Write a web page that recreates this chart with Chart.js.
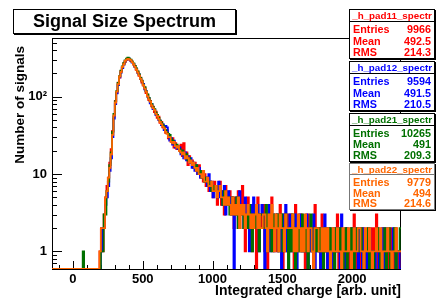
<!DOCTYPE html>
<html><head><meta charset="utf-8">
<script src="https://cdn.jsdelivr.net/npm/chart.js@4/dist/chart.umd.min.js"></script>
<style>
html,body{margin:0;padding:0;background:#fff;}
#wrap{position:relative;width:438px;height:300px;overflow:hidden;font-family:'Liberation Sans',Arial,Helvetica,sans-serif;font-weight:bold;}
canvas{position:absolute;left:0;top:0;}
.box{position:absolute;background:#fff;border:1px solid #000;box-shadow:1px 1px 0 #000;box-sizing:border-box;}
.ttl{position:absolute;left:0;right:0;text-align:center;white-space:nowrap;}
.row{position:absolute;left:3px;right:3px;display:flex;justify-content:space-between;white-space:nowrap;}
.sep{position:absolute;left:0;right:0;height:1px;background:#000;}
</style>
</head><body>
<div id="wrap">
<canvas id="c" width="438" height="300"></canvas>
</div>
<script>
// ---- data ----
const binLow = -150, binWidth = 10;
const yAxisMin = 0.593, yAxisMax = 572;
const seriesNames = ['_h_pad11_spectr','_h_pad12_spectr','_h_pad21_spectr','_h_pad22_spectr'];
const seriesColors = ['#ff0000','#0000ff','#007000','#ff6600'];
const entries = ['9966','9594','10265','9779'];
const means = ['492.5','491.5','491','494'];
const rmsValues = ['214.3','210.5','209.3','214.6'];
const xTicks = [0,500,1000,1500,2000];
const yTicks = [1,10,100];
const chartTitle = 'Signal Size Spectrum';
const xTitle = 'Integrated charge [arb. unit]';
const yTitle = 'Number of signals';

const pad11 = [
0,0,0,0,0,0,0,0,0,0,
0,0,0,0,0,0,0,0,0,0,
0,0,0,0,0,0,0,0,0,0,
0,0,0,0,1,2,1,3,5,7,
9,14,21,36,55,88,112,152,176,214,
236,268,281,298,314,301,290,284,259,248,
222,210,186,176,152,139,131,111,106,90,
88,75,74,63,64,53,55,46,47,40,
41,34,37,29,28,26,29,22,25,21,
23,20,24,17,25,16,19,13,17,14,
15,12,14,11,10,13,9,11,8,10,
7,9,6,8,7,5,8,6,4,7,
8,4,6,3,7,5,4,6,3,5,
2,5,3,6,2,4,7,3,1,4,
5,2,3,1,4,3,0,5,2,3,
2,4,1,3,0,2,3,5,1,2,
3,1,2,4,2,0,3,1,2,3,
1,3,2,0,4,2,1,2,3,1,
2,0,1,3,1,2,2,0,4,1,
1,2,0,3,1,1,2,0,2,1,
0,2,1,1,3,0,1,2,1,0,
2,1,0,1,2,1,3,0,1,1,
1,0,2,1,0,1,2,1,0,2,
1,2,3,0,1,1,0,2,1,1,
0,1,2,1,1,0,2,1,0,1];

const pad12 = [
0,0,0,0,0,0,0,0,0,0,
0,0,0,0,0,0,0,0,0,0,
0,0,0,0,0,0,0,0,0,0,
0,0,0,0,0,1,2,2,4,5,
7,11,16,30,52,80,110,141,178,205,
233,259,285,299,305,310,292,276,265,240,
229,203,193,168,160,146,124,118,100,95,
82,80,69,68,58,57,50,49,43,44,
37,42,40,32,27,29,24,27,22,23,
21,22,18,20,16,19,15,17,14,16,
12,14,11,13,10,12,9,11,10,8,
9,7,10,6,8,5,7,6,5,8,
5,6,4,7,3,5,6,4,5,3,
0,4,5,2,6,3,4,2,5,3,
3,1,4,2,5,3,2,4,1,3,
4,2,0,3,2,4,1,2,3,1,
2,3,1,2,0,3,2,4,1,2,
3,1,2,1,3,0,2,3,1,2,
1,2,3,0,2,1,1,3,0,2,
2,1,0,2,1,3,1,0,2,1,
1,0,2,1,1,2,0,3,1,1,
0,2,1,1,0,2,1,1,2,0,
2,1,0,2,1,0,1,2,1,1,
1,0,1,2,0,1,2,0,1,2,
1,1,0,1,2,1,0,1,1,0];

const pad21 = [
0,0,0,0,0,0,0,0,0,0,
0,0,0,0,0,0,0,0,0,0,
0,0,1,0,0,0,0,0,0,0,
0,0,0,0,0,1,1,3,3,6,
8,13,19,35,60,87,118,150,184,216,
245,270,294,310,318,309,301,283,268,249,
231,212,194,175,161,143,133,117,107,96,
87,80,73,69,62,58,53,49,46,43,
40,37,34,33,32,28,27,25,24,24,
22,21,19,20,18,17,18,15,16,14,
14,13,12,13,11,10,11,9,10,8,
9,8,7,8,6,7,6,7,5,6,
6,5,4,6,5,4,5,3,4,5,
4,3,5,2,4,3,4,2,3,3,
2,4,3,1,3,2,4,3,1,3,
3,2,2,4,1,3,2,1,3,2,
2,3,1,2,3,1,2,3,2,0,
2,1,3,2,0,2,1,2,1,3,
1,2,1,0,2,3,1,1,2,1,
2,1,2,1,0,1,2,1,1,2,
1,1,0,2,1,1,2,1,0,1,
2,0,1,1,2,1,0,1,2,1,
1,2,1,0,1,1,2,0,1,1,
0,1,1,2,1,0,1,1,2,0,
1,2,0,1,1,2,0,1,1,2];

const pad22 = [
0,0,0,0,0,0,0,0,0,0,
0,0,0,0,0,0,0,0,0,0,
0,0,0,0,0,0,0,0,0,0,
0,0,0,0,1,2,2,2,5,6,
9,12,18,32,57,84,116,145,182,208,
242,262,290,300,308,302,296,279,262,242,
224,205,188,170,158,141,127,116,101,92,
86,77,71,67,60,56,51,47,44,41,
39,35,33,30,30,26,25,26,23,22,
23,20,19,18,19,16,17,16,14,15,
13,14,12,11,12,10,10,9,11,8,
8,9,7,7,8,6,6,7,5,6,
7,5,5,4,6,4,5,4,3,5,
3,4,3,5,2,4,3,4,2,3,
4,3,2,3,2,3,4,2,3,2,
2,3,3,2,1,3,2,4,2,1,
3,2,1,3,2,2,1,3,2,2,
2,2,3,1,2,1,3,2,1,2,
1,3,2,1,2,2,1,0,2,2,
2,1,1,2,1,2,1,2,1,0,
1,2,1,1,2,1,1,0,2,1,
1,1,2,1,0,1,2,1,1,2,
2,1,1,0,2,1,1,2,1,0,
1,1,2,1,1,2,0,1,1,1,
2,1,1,0,1,1,2,1,1,1];

const allSeries = [pad11, pad12, pad21, pad22];

// ---- build datasets (bin low edges + closing edge); empty bins sit on the axis floor as in ROOT ----
function toSteps(counts){
  const pts = counts.map((c,i)=>({x: binLow + i*binWidth, y: c > 0 ? c : yAxisMin}));
  pts.push({x: binLow + counts.length*binWidth, y: pts[pts.length-1].y});
  return pts;
}
const datasets = allSeries.map((s,i)=>({
  label: seriesNames[i], data: toSteps(s), borderColor: seriesColors[i],
  borderWidth: 1.8, stepped: true, fill: false, pointRadius: 0, order: 4-i
}));

const FONT = "'Liberation Sans', Arial, Helvetica, sans-serif";

const rootPlugin = {
  id: 'rootStyle',
  beforeDatasetsDraw(chart){
    const {ctx, chartArea: a, scales:{x, y}} = chart;
    ctx.save();
    ctx.strokeStyle = '#000'; ctx.lineWidth = 1;
    ctx.strokeRect(a.left + 0.5, a.top + 0.5, a.right - a.left - 1, a.bottom - a.top);
    ctx.beginPath();
    for (let v = -100; v <= 2300; v += 100){
      const px = Math.round(x.getPixelForValue(v)) + 0.5;
      const len = (v % 500 === 0) ? 8 : 4;
      ctx.moveTo(px, a.bottom); ctx.lineTo(px, a.bottom - len);
    }
    for (let e = -1; e <= 2; e++){
      for (let m = 1; m <= 9; m++){
        const v = m * Math.pow(10, e);
        if (v < y.min || v > y.max) continue;
        const py = Math.round(y.getPixelForValue(v)) + 0.5;
        const len = (m === 1) ? 10 : 5;
        ctx.moveTo(a.left, py); ctx.lineTo(a.left + len, py);
      }
    }
    ctx.stroke();
    ctx.restore();
  },
  afterDraw(chart){
    const {ctx, chartArea: a} = chart;
    ctx.save();
    ctx.fillStyle = '#000';
    ctx.font = 'bold 14px ' + FONT;
    ctx.textAlign = 'right'; ctx.textBaseline = 'alphabetic';
    ctx.fillText(xTitle, a.right, 295);
    ctx.translate(24, 46); ctx.rotate(-Math.PI/2);
    ctx.font = 'bold 13.5px ' + FONT;
    ctx.textAlign = 'right';
    ctx.fillText(yTitle, 0, 0);
    ctx.restore();
  }
};

new Chart(document.getElementById('c'), {
  type: 'line',
  data: { datasets },
  options: {
    responsive: false, animation: false, events: [],
    layout: { padding: { left: 0, right: 37, top: 38, bottom: 0 } },
    plugins: { legend: { display: false }, tooltip: { enabled: false }, title: { display: false } },
    scales: {
      x: {
        type: 'linear', min: -150, max: 2350,
        afterBuildTicks: s => { s.ticks = xTicks.map(v => ({ value: v })); },
        afterFit: s => { s.height = 31; },
        grid: { display: false, drawTicks: false }, border: { display: false },
        ticks: { color: '#000', padding: 3, maxRotation: 0, autoSkip: false,
          font: { family: FONT, size: 13, weight: 'bold' }, callback: v => String(v) }
      },
      y: {
        type: 'logarithmic', min: yAxisMin, max: yAxisMax,
        afterBuildTicks: s => { s.ticks = yTicks.map(v => ({ value: v })); },
        afterFit: s => { s.width = 52; },
        grid: { display: false, drawTicks: false }, border: { display: false },
        ticks: { color: '#000', padding: 5, autoSkip: false,
          font: { family: FONT, size: 13, weight: 'bold' },
          callback: v => (v === 100 ? '10\u00B2' : String(v)) }
      }
    }
  },
  plugins: [rootPlugin]
});

// ---- title box and stats boxes ----
const wrap = document.getElementById('wrap');
const tb = document.createElement('div');
tb.className = 'box';
Object.assign(tb.style, { left: '13px', top: '9px', width: '223px', height: '25px', fontSize: '18px', lineHeight: '23px', textAlign: 'center', color: '#000' });
tb.textContent = chartTitle;
wrap.appendChild(tb);

const boxTops = [9, 61, 113, 163], boxHeights = [50, 50, 49, 47];
seriesNames.forEach((name, i) => {
  const h = boxHeights[i];
  const b = document.createElement('div');
  b.className = 'box';
  Object.assign(b.style, { left: '349px', top: boxTops[i] + 'px', width: '86px', height: h + 'px', color: seriesColors[i] });
  if (i === 3) b.style.borderColor = '#777';
  const t = document.createElement('div');
  t.className = 'ttl';
  Object.assign(t.style, { top: (h*0.12 - 6) + 'px', fontSize: '9.8px', lineHeight: '12px' });
  t.textContent = name;
  b.appendChild(t);
  const sp = document.createElement('div');
  sp.className = 'sep';
  sp.style.top = Math.round(h*0.22) + 'px';
  if (i === 3) sp.style.background = '#777';
  b.appendChild(sp);
  const rows = [['Entries', entries[i]], ['Mean', means[i]], ['RMS', rmsValues[i]]];
  const fr = [0.405, 0.635, 0.855];
  rows.forEach((r, k) => {
    const d = document.createElement('div');
    d.className = 'row';
    Object.assign(d.style, { top: (h*fr[k] - 7) + 'px', fontSize: '10.8px', lineHeight: '13px' });
    const l = document.createElement('span'); l.textContent = r[0];
    const v = document.createElement('span'); v.textContent = r[1];
    d.appendChild(l); d.appendChild(v);
    b.appendChild(d);
  });
  wrap.appendChild(b);
});
</script>
</body></html>
